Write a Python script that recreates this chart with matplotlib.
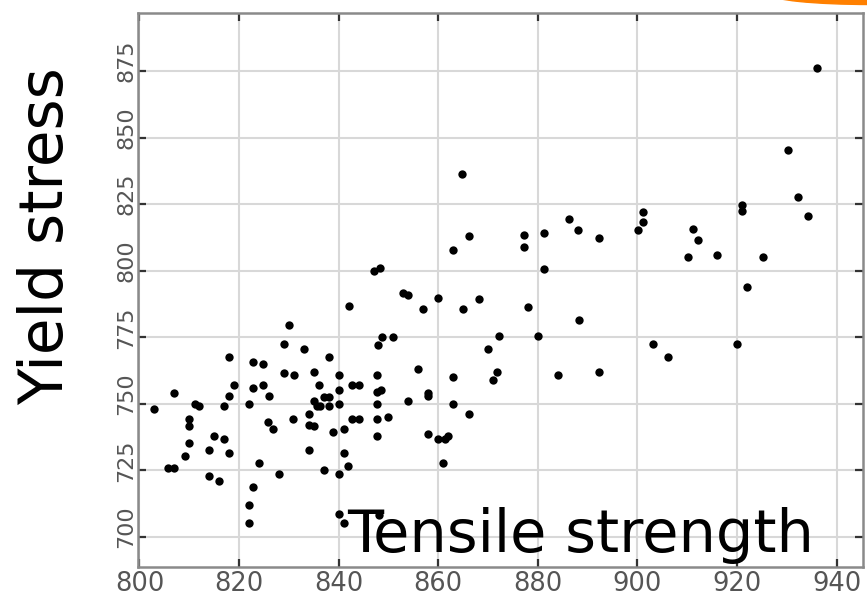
import matplotlib
matplotlib.use("Agg")
import matplotlib.pyplot as plt
from matplotlib.patches import Ellipse
from matplotlib.transforms import ScaledTranslation

tensile = [803.0, 807.0, 805.8, 806.9, 809.2, 810.0, 810.0, 810.0, 811.2, 812.0,
           814.0, 814.0, 815.0, 816.0, 817.0, 817.0, 818.0, 818.0, 818.0, 819.0,
           822.0, 822.8, 822.8, 824.9, 824.9, 826.0, 825.9, 826.9, 824.0, 822.8,
           822.0, 822.0, 828.1, 829.0, 830.1, 829.0, 831.1, 830.9, 833.0, 834.0,
           834.0, 834.0, 835.0, 835.0, 835.0, 835.6, 836.3, 836.0, 837.0, 838.0,
           838.0, 837.0, 838.0, 838.9, 840.0, 840.0, 840.0, 840.0, 840.0, 841.0,
           841.0, 841.0, 841.9, 842.1, 842.7, 844.0, 842.7, 844.0, 847.8, 848.8,
           850.9, 847.6, 847.6, 848.6, 847.6, 847.6, 847.6, 850.0, 848.0, 854.0,
           856.0, 857.0, 858.0, 858.0, 858.0, 860.0, 861.4, 862.0, 861.0, 862.9,
           862.9, 865.0, 866.2, 869.9, 871.0, 871.7, 872.2, 880.1, 878.1, 888.2,
           884.0, 892.2, 903.1, 906.2, 920.0, 853.0, 854.0, 859.9, 868.2, 847.0,
           848.2, 863.0, 864.8, 866.1, 877.2, 877.2, 881.2, 881.2, 886.2, 888.0,
           892.2, 900.2, 901.1, 901.1, 910.1, 911.2, 912.1, 916.0, 921.1, 921.1,
           922.1, 925.2, 930.2, 932.2, 934.2, 936.1]
yield_stress = [748.0, 754.1, 725.9, 725.9, 730.5, 744.4, 741.7, 735.4, 750.0, 749.0,
                732.6, 723.0, 737.8, 721.0, 749.0, 736.6, 767.7, 752.9, 731.6, 757.0,
                750.0, 756.0, 765.7, 764.8, 757.0, 753.0, 743.3, 740.5, 727.9, 718.8,
                711.9, 705.1, 723.8, 772.6, 779.5, 761.6, 760.9, 744.4, 770.7, 732.6,
                746.0, 742.1, 741.5, 761.8, 751.2, 749.0, 749.3, 757.0, 752.7, 752.7,
                749.3, 725.0, 767.7, 739.3, 760.9, 755.1, 750.0, 723.8, 708.6, 705.3,
                740.5, 731.6, 726.6, 786.7, 757.0, 757.0, 744.4, 744.4, 772.2, 775.2,
                775.2, 761.0, 754.5, 755.1, 750.0, 744.4, 737.8, 745.0, 708.3, 751.2,
                763.0, 785.6, 754.1, 752.9, 738.6, 736.6, 736.6, 737.8, 727.9, 759.9,
                750.0, 785.6, 746.1, 770.7, 758.8, 761.8, 775.6, 775.6, 786.5, 781.3,
                761.0, 761.8, 772.6, 767.7, 772.6, 791.8, 790.8, 789.7, 789.5, 800.0,
                801.0, 807.6, 836.2, 813.0, 813.3, 808.9, 814.3, 800.5, 819.3, 815.2,
                812.3, 815.2, 818.3, 822.2, 805.0, 815.6, 811.6, 805.8, 824.6, 822.5,
                794.0, 805.0, 845.2, 827.5, 820.6, 876.3]

x_ticks = [800, 820, 840, 860, 880, 900, 920, 940]
y_ticks = [700, 725, 750, 775, 800, 825, 850, 875]

W, H = 867, 601
fig = plt.figure(figsize=(W / 100, H / 100), dpi=100)
ax = fig.add_axes([138 / W, 1 - 567 / H, (863 - 138) / W, (567 - 13) / H])

ax.scatter(tensile, yield_stress, s=36, color="black", zorder=3, linewidths=0)

ax.set_xlim(799.7, 945.3)
ax.set_ylim(688.7, 896.8)
ax.set_xticks(x_ticks)
ax.set_yticks(y_ticks)
ax.grid(True, color="#d8d8d8", linewidth=1.5, zorder=0)
ax.set_axisbelow(True)

for sp in ax.spines.values():
    sp.set_color("#8a8a8a")
    sp.set_linewidth(1.8)

ax.tick_params(axis="both", direction="in", length=6, width=1.6, color="#333333",
               top=True, right=True, labeltop=False, labelright=False)
ax.tick_params(axis="x", labelsize=18.5, labelcolor="#555555", pad=3)
ax.tick_params(axis="y", labelsize=16, labelcolor="#555555", pad=1)
for lab in ax.get_yticklabels():
    lab.set_rotation(90)
    lab.set_va("center")
    lab.set_transform(lab.get_transform() + ScaledTranslation(0, 0.10, fig.dpi_scale_trans))

fig.text(47 / W, 1 - 236 / H, "Yield stress", rotation=90, fontsize=43,
         ha="center", va="center", color="black")
ax.text(347 / W, 1 - 552 / H, "Tensile strength", fontsize=42.5, ha="left",
        va="baseline", color="black", transform=fig.transFigure, zorder=5)

e = Ellipse((870 / W, 1 + 5.7 / H), 200 / W, 20.4 / H, transform=fig.transFigure,
            color="#ff8000", zorder=10)
fig.add_artist(e)

fig.savefig("out.png", dpi=100)
